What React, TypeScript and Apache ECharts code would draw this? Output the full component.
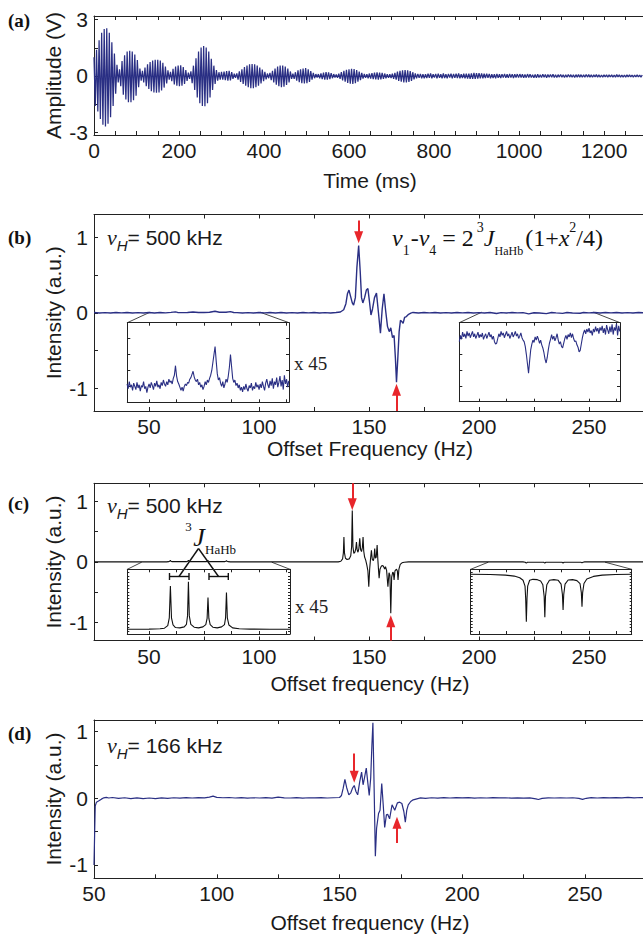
import React, { useEffect, useRef } from "react";
import * as echarts from "echarts";

const SANS = "'Liberation Sans', Arial, Helvetica, sans-serif";
const SERIF = "'Liberation Serif', 'Times New Roman', Times, serif";
const NAVY = "#2a2f84";
const RED = "#e8262b";
const INK = "#222222";

// ---------------- DATA ----------------
// (a) free-induction decay, one sample every 3 ms (alternating extremes of the oscillation)
const FID_STEP_MS = 3;
const fidAmplitude = [
  1.0, -1.6, 1.4, -1.9, 1.9, -2.3, 2.3, -2.6, 2.5, -2.7,
  2.55, -2.55, 2.3, -2.2, 1.8, -1.6, 1.2, -0.95, 0.6, -0.35,
  0.35, -0.55, 0.8, -1.0, 1.1, -1.25, 1.3, -1.4, 1.35, -1.4,
  1.3, -1.3, 1.15, -1.05, 0.85, -0.6, 0.4, -0.25, 0.28, -0.35,
  0.45, -0.55, 0.62, -0.7, 0.75, -0.82, 0.82, -0.88, 0.86, -0.9,
  0.87, -0.88, 0.82, -0.78, 0.7, -0.62, 0.5, -0.4, 0.3, -0.2,
  0.22, -0.28, 0.38, -0.45, 0.5, -0.52, 0.56, -0.55, 0.57, -0.52,
  0.48, -0.42, 0.32, -0.26, 0.18, -0.15, 0.25, -0.38, 0.55, -0.75,
  0.95, -1.15, 1.3, -1.45, 1.52, -1.6, 1.6, -1.62, 1.52, -1.45,
  1.3, -1.15, 0.92, -0.75, 0.55, -0.42, 0.32, -0.25, 0.2, -0.2,
  0.22, -0.2, 0.24, -0.22, 0.26, -0.25, 0.28, -0.24, 0.2, -0.16,
  0.12, -0.1, 0.14, -0.2, 0.25, -0.32, 0.36, -0.42, 0.47, -0.52,
  0.56, -0.6, 0.62, -0.65, 0.64, -0.66, 0.62, -0.6, 0.55, -0.52,
  0.45, -0.4, 0.34, -0.28, 0.22, -0.18, 0.13, -0.12, 0.16, -0.22,
  0.28, -0.34, 0.4, -0.46, 0.5, -0.55, 0.55, -0.6, 0.55, -0.57,
  0.5, -0.48, 0.4, -0.34, 0.24, -0.16, 0.12, -0.15, 0.2, -0.25,
  0.3, -0.33, 0.36, -0.38, 0.4, -0.4, 0.42, -0.38, 0.36, -0.32,
  0.26, -0.2, 0.16, -0.12, 0.1, -0.08, 0.1, -0.12, 0.14, -0.17,
  0.18, -0.2, 0.2, -0.2, 0.19, -0.17, 0.15, -0.12, 0.1, -0.08,
  0.08, -0.1, 0.12, -0.16, 0.2, -0.24, 0.27, -0.31, 0.33, -0.37,
  0.36, -0.41, 0.38, -0.42, 0.37, -0.38, 0.32, -0.3, 0.24, -0.22,
  0.16, -0.14, 0.11, -0.1, 0.1, -0.12, 0.13, -0.14, 0.15, -0.17,
  0.18, -0.18, 0.19, -0.2, 0.18, -0.18, 0.16, -0.15, 0.13, -0.12,
  0.1, -0.1, 0.09, -0.11, 0.12, -0.15, 0.17, -0.2, 0.23, -0.26,
  0.27, -0.3, 0.3, -0.34, 0.32, -0.35, 0.3, -0.32, 0.26, -0.26,
  0.2, -0.18, 0.14, -0.13, 0.11, -0.1, 0.11,
  -0.12, 0.1, -0.13, 0.09, -0.11, 0.12, -0.1, 0.13, -0.12, 0.1,
  -0.09, 0.11, -0.13, 0.12, -0.1, 0.09, -0.12, 0.13, -0.11, 0.1,
  -0.12, 0.11, -0.09, 0.12, -0.13, 0.11, -0.1, 0.12, -0.11, 0.13,
  -0.12, 0.1, -0.11, 0.12, -0.13, 0.12, -0.14, 0.13, -0.15, 0.14,
  -0.15, 0.16, -0.15, 0.15, -0.14, 0.15, -0.13, 0.14, -0.12, 0.12,
  -0.11, 0.12, -0.1, 0.11, -0.12, 0.1, -0.11, 0.1, -0.12, 0.11,
  -0.1, 0.09, -0.11, 0.1, -0.09, 0.11, -0.1, 0.09, -0.1, 0.11,
  -0.09, 0.1, -0.11, 0.09, -0.08, 0.1, -0.09, 0.1, -0.08, 0.09,
  -0.1, 0.08, -0.09, 0.1, -0.08, 0.09, -0.08, 0.07, -0.09, 0.08,
  -0.1, 0.09, -0.08, 0.07, -0.08, 0.09, -0.07, 0.08, -0.09, 0.08,
  -0.07, 0.08, -0.07, 0.09, -0.08, 0.07, -0.08, 0.07, -0.06, 0.08,
  -0.07, 0.07, -0.08, 0.06, -0.07, 0.08, -0.06, 0.07, -0.07, 0.06,
  -0.08, 0.07, -0.06, 0.07, -0.06, 0.07, -0.07, 0.06, -0.07, 0.08,
  -0.06, 0.07, -0.06, 0.06, -0.07, 0.06, -0.05, 0.07, -0.06, 0.06,
  -0.07, 0.05, -0.06, 0.06, -0.05, 0.06, -0.07, 0.06, -0.05, 0.06,
  -0.06, 0.05, -0.06, 0.07, -0.05, 0.06, -0.06, 0.05, -0.06, 0.05,
  -0.06, 0.06, -0.05, 0.06, -0.05, 0.05, -0.06, 0.05, -0.05, 0.06,
  -0.05, 0.05, -0.06, 0.05,
];

const timeTicks = [0, 50, 100, 150, 200, 250, 300, 350, 400, 450, 500, 550, 600, 650, 700, 750, 800, 850, 900, 950, 1000, 1050, 1100, 1150, 1200, 1250, 1300];
const timeLabels = [0, 200, 400, 600, 800, 1000, 1200];
const ampTicks = [-3, -1.5, 0, 1.5, 3];
const ampLabels = [-3, 0, 3];

const freqTicksBC = [25, 50, 75, 100, 125, 150, 175, 200, 225, 250, 275];
const freqTicksD = [50, 75, 100, 125, 150, 175, 200, 225, 250, 275];
const freqLabels = [50, 100, 150, 200, 250];
const intTicks = [-1, -0.5, 0, 0.5, 1];
const intLabels = [-1, 0, 1];

const insetTicksLeft = [50, 62.5, 75, 87.5, 100, 112.5];
const insetTicksRight = [200, 212.5, 225, 237.5, 250, 262.5];
const insetYTicksB = [2, 4, 6, 8];
const insetYTicksC = [0.5, 1, 1.5, 2, 2.5, 3, 3.5, 4, 4.5, 5, 5.5, 6, 6.5, 7, 7.5, 8, 8.5, 9, 9.5];

// (b) measured spectrum, 500 kHz  [Hz, a.u.]
const bSpectrum: [number, number][] = [
  [25, 0.003], [27.5, -0.004], [30, 0.002], [32.5, -0.003], [35, 0.004], [37.5, -0.002], [40, 0.003], [42.5, -0.004],
  [45, 0.002], [47.5, -0.003], [50, 0.004], [52.5, -0.003], [55, 0.003], [57.5, -0.002], [60, 0.005], [62, 0.012],
  [63, 0.004], [65, 0.002], [67.5, 0.004], [70, 0.009], [72.5, 0.003], [75, 0.004], [77.5, 0.006], [80, 0.02],
  [82, 0.007], [85, 0.006], [87, 0.015], [88.5, 0.004], [90, 0.001], [92.5, -0.004], [95, 0.002], [97.5, -0.003],
  [100, 0.003], [102.5, -0.002], [105, 0.004], [107.5, -0.003], [110, 0.003], [112.5, -0.004], [115, 0.002],
  [117.5, -0.003], [120, 0.004], [122.5, -0.002], [125, 0.003], [127.5, -0.004], [130, 0.002], [132.5, -0.003],
  [135, 0.004], [137, 0.01], [138.5, 0.04], [139.5, 0.12], [140.2, 0.25], [140.9, 0.3], [141.6, 0.22], [142.4, 0.13],
  [143, 0.1], [143.8, 0.2], [144.5, 0.6], [145.3, 0.89], [146, 0.55], [146.6, 0.2], [147.2, 0.13], [148, 0.2],
  [148.8, 0.3], [149.5, 0.32], [150.2, 0.15], [150.9, -0.03], [151.6, 0.05], [152.5, 0.2], [153.4, 0.26],
  [154.3, 0.0], [155.2, -0.27], [156, 0.05], [156.8, 0.25], [157.6, 0.02], [158.4, -0.18], [159.2, -0.25],
  [159.9, -0.2], [160.7, -0.33], [161.4, -0.3], [162, -0.6], [162.5, -0.92], [163.1, -0.6], [163.7, -0.25],
  [164.3, -0.1], [165, -0.12], [165.5, -0.14], [166.2, -0.06], [167, -0.05], [168, -0.02], [169, -0.005],
  [170, 0.004], [172.5, -0.003], [175, 0.004], [177.5, -0.002], [180, 0.003], [182.5, -0.004], [185, 0.002],
  [187.5, -0.003], [190, 0.004], [192.5, -0.002], [195, 0.003], [197.5, -0.004], [200, 0.002], [202.5, -0.003],
  [205, 0.003], [208, -0.01], [210, 0.002], [212.5, -0.003], [215, 0.004], [217.5, -0.002], [220, 0.001],
  [222.6, -0.015], [225, 0.0], [227.5, -0.004], [230.6, -0.012], [233, 0.003], [235, -0.002], [238, -0.008],
  [240, 0.003], [242.5, -0.003], [246, -0.006], [247.5, 0.004], [250, -0.002], [252.5, 0.004], [255, -0.003],
  [257.5, 0.004], [260, -0.002], [262.5, 0.003], [265, -0.004], [267.5, 0.002], [270, -0.003], [272.5, 0.004],
  [275, -0.002],
];

// (b) x45 insets: one value every 0.5 Hz
const INSET_STEP_HZ = 0.5;
const bInsetLeftStart = 40;
const bInsetLeft = [
  2.3, 1.7, 2.6, 1.9, 2.2, 1.5, 2.4, 2.0, 1.6, 2.5, 1.8, 2.2, 1.4, 2.1, 1.9, 2.6, 1.7, 2.0, 1.2, 1.9,
  2.3, 1.8, 2.5, 2.1, 1.6, 2.4, 2.0, 2.7, 1.9, 2.2, 1.7, 2.5, 2.1, 2.8, 2.3, 2.0, 2.6, 2.2, 2.9, 2.5,
  2.7, 2.3, 3.0, 3.4, 4.6, 3.3, 2.6, 2.3, 1.9, 1.5, 1.9, 1.4, 2.0, 2.3, 2.1, 2.5, 2.4, 2.9, 3.1, 3.5,
  3.9, 3.2, 2.8, 2.6, 2.9, 2.2, 2.5, 1.9, 2.2, 1.6, 2.0, 2.6, 2.2, 2.8, 2.5, 3.0, 3.4, 4.0, 5.0, 6.0,
  7.0, 5.2, 3.6, 2.8, 3.1, 2.4, 2.0, 2.6, 1.8, 2.3, 2.9, 2.5, 3.3, 4.4, 6.0, 4.5, 3.0, 2.5, 2.8, 2.1,
  2.4, 1.8, 2.2, 1.5, 1.9, 1.3, 2.0, 1.6, 2.3, 1.7, 1.4, 2.1, 1.8, 2.4, 1.5, 2.0, 1.7, 2.5, 1.9, 2.2,
  1.6, 2.3, 1.8, 2.6, 2.0, 1.5, 2.4, 2.9, 2.2, 1.8, 2.7, 2.1, 3.0, 1.7, 2.6, 2.2, 3.1, 1.9, 2.5, 3.3,
  2.0, 2.8, 1.6, 3.4, 2.3, 2.9, 1.9, 2.7,
];
const bInsetRightStart = 191;
const bInsetRight = [
  7.6, 8.4, 7.9, 8.8, 8.2, 8.6, 8.0, 8.9, 8.3, 8.7, 8.1, 8.5, 8.9, 8.2, 8.6, 8.0, 8.4, 8.8, 8.1, 8.5,
  8.2, 8.7, 7.9, 8.3, 8.6, 8.0, 8.4, 8.8, 8.2, 8.5, 7.9, 8.3, 7.6, 7.3, 7.4, 8.0, 8.6, 8.2, 8.9, 8.4,
  8.7, 8.1, 8.5, 8.9, 8.3, 8.6, 8.0, 8.4, 8.8, 8.2, 8.5, 8.9, 8.3, 8.6, 8.0, 8.3, 8.7, 8.1, 7.8, 7.6,
  7.0, 6.0, 4.8, 3.6, 5.2, 6.6, 7.3, 7.8, 7.5, 8.2, 7.8, 8.3, 7.9, 7.4, 7.8, 7.2, 6.8, 6.2, 5.4, 4.9,
  5.6, 6.6, 7.4, 7.9, 8.5, 7.9, 8.3, 7.7, 8.1, 8.6, 7.8, 7.3, 7.6, 7.0, 6.8, 7.4, 8.0, 8.4, 7.9, 8.5,
  8.2, 8.7, 8.1, 8.6, 8.0, 7.6, 7.7, 7.2, 6.9, 6.3, 6.5, 7.3, 8.1, 8.7, 9.1, 8.6, 9.2, 8.8, 9.3, 8.7,
  9.0, 8.4, 9.2, 8.8, 9.5, 8.9, 9.3, 8.6, 9.4, 9.0, 9.6, 8.7, 9.3, 8.5, 9.7, 9.1, 8.6, 9.5, 8.8, 9.8,
  8.5, 9.4, 9.0, 9.9, 8.4, 9.6, 8.9,
];

// (c) simulated spectrum, 500 kHz
const cSpectrum: [number, number][] = [
  [25, 0], [58, 0], [58.9, 0.004], [59.4, 0.01], [59.7, 0.025], [60, 0.01], [60.5, 0.004], [67, 0.004],
  [67.6, 0.01], [67.9, 0.028], [68.2, 0.01], [68.8, 0.004], [76, 0.004], [76.5, 0.01], [76.8, 0.02],
  [77.1, 0.01], [77.6, 0.004], [84.4, 0.004], [84.9, 0.01], [85.2, 0.022], [85.5, 0.01], [86, 0.004],
  [87, 0], [136, 0], [137.2, 0.01], [138, 0.05], [138.35, 0.15], [138.6, 0.41], [138.85, 0.15], [139.3, 0.06],
  [140, 0.04], [141, 0.05], [141.7, 0.1], [142.1, 0.25], [142.4, 0.85], [142.7, 0.25], [143.1, 0.14],
  [143.6, 0.16], [144.0, 0.22], [144.3, 0.33], [144.6, 0.2], [145.0, 0.16], [145.4, 0.22], [145.8, 0.39],
  [146.2, 0.2], [146.6, 0.17], [147.0, 0.24], [147.3, 0.41], [147.6, 0.18], [148.0, 0.08], [148.5, 0.03],
  [149.0, -0.05], [149.5, -0.15], [149.9, -0.41], [150.3, -0.12], [150.7, 0.05], [151.1, 0.19], [151.5, 0.04],
  [152.0, 0.02], [152.3, 0.08], [152.6, 0.22], [152.9, 0.06], [153.3, 0.08], [153.7, 0.28], [154.0, 0.05],
  [154.3, -0.12], [154.6, -0.27], [155.0, -0.12], [155.6, -0.07], [156.3, -0.06], [156.8, -0.09],
  [157.1, -0.12], [157.5, -0.08], [158.0, -0.14], [158.6, -0.41], [159.1, -0.18], [159.5, -0.22],
  [159.9, -0.85], [160.3, -0.25], [160.8, -0.17], [161.1, -0.18], [161.4, -0.3], [161.8, -0.15],
  [162.5, -0.12], [162.9, -0.15], [163.2, -0.3], [163.6, -0.12], [164.2, -0.04], [165, -0.015], [166, -0.005],
  [168, 0], [220, 0], [221, -0.006], [221.5, -0.02], [222, -0.006], [229.4, -0.006], [229.9, -0.02],
  [230.4, -0.006], [237.7, -0.006], [238.2, -0.018], [238.7, -0.006], [246.3, -0.005], [246.8, -0.016],
  [247.3, -0.005], [248, 0], [275, 0],
];
const cInsetLeft: [number, number][] = [
  [40.1, 0.73], [50, 0.75], [55, 0.8], [57, 0.9], [58.5, 1.3], [59.2, 2.5], [59.7, 7.4], [60.2, 2.5], [60.9, 1.4],
  [62, 1.0], [64, 0.95], [66, 1.1], [67, 1.5], [67.5, 2.8], [67.9, 8.07], [68.3, 2.8], [69, 1.5], [70.5, 1.05],
  [72.5, 0.95], [74.5, 1.1], [75.8, 1.45], [76.4, 2.4], [76.8, 5.63], [77.2, 2.4], [77.8, 1.45], [79, 1.05],
  [81, 0.95], [83, 1.1], [84.3, 1.45], [84.8, 2.5], [85.2, 6.4], [85.6, 2.5], [86.3, 1.4], [88, 0.95],
  [91, 0.82], [96, 0.76], [105, 0.74], [114.1, 0.73],
];
const cInsetRight: [number, number][] = [
  [196.2, 9.23], [205, 9.2], [212, 9.1], [216, 8.95], [218.5, 8.7], [220, 8.3], [220.9, 7.4], [221.2, 5.5],
  [221.5, 1.9], [221.8, 5.5], [222.1, 7.4], [223, 8.3], [224.5, 8.45], [226.5, 8.4], [228, 8.2], [229, 7.6],
  [229.6, 5.8], [229.9, 2.58], [230.2, 5.8], [230.8, 7.6], [232, 8.3], [234, 8.4], [236, 8.3], [237.3, 7.7],
  [237.9, 6.1], [238.2, 3.7], [238.5, 6.1], [239.1, 7.7], [240.5, 8.35], [242.5, 8.4], [244.5, 8.25],
  [245.9, 7.8], [246.5, 6.4], [246.8, 4.2], [247.1, 6.4], [247.7, 7.8], [249, 8.5], [252, 8.9], [256, 9.1],
  [262, 9.2], [269.4, 9.23],
];

// (d) measured spectrum, 166 kHz
const dSpectrum: [number, number][] = [
  [50, -1.0], [50.25, -0.55], [50.5, -0.12], [51, -0.06], [52, -0.04], [53, -0.015], [54, 0.005], [55, 0.012],
  [56, 0.002], [57.5, 0.01], [60, -0.004], [62.5, 0.006], [65, -0.006], [67.5, 0.004], [70, -0.008],
  [72.5, 0.002], [75, -0.006], [77.5, 0.003], [80, -0.002], [82.5, 0.006], [85, 0.001], [87.5, 0.008],
  [90, 0.002], [92.5, 0.009], [95, 0.004], [97, 0.015], [98.5, 0.03], [100, 0.012], [102.5, 0.006],
  [105, 0.01], [107.5, 0.002], [110, 0.008], [112.5, 0.0], [115, 0.006], [117.5, 0.002], [120, 0.007],
  [122.5, 0.001], [125, 0.016], [127.5, 0.004], [130, 0.002], [132.5, 0.007], [135, 0.0], [137.5, 0.006],
  [140, 0.003], [142.5, 0.008], [145, 0.002], [147.5, 0.006], [150, 0.01], [150.8, 0.04], [151.5, 0.15],
  [152.2, 0.28], [152.9, 0.16], [153.8, 0.05], [154.6, 0.08], [155.3, 0.15], [156, 0.19], [156.7, 0.1],
  [157.4, 0.05], [158.2, 0.24], [159, 0.39], [159.6, 0.2], [160.3, 0.33], [160.9, 0.45], [161.5, 0.24],
  [162.1, 0.04], [162.7, 0.3], [163.2, 0.8], [163.6, 1.13], [164.1, 0.15], [164.6, -0.87], [165.1, -0.45],
  [165.9, -0.23], [166.5, -0.18], [167.2, 0.22], [167.8, -0.1], [168.4, -0.44], [169.1, -0.25],
  [169.6, -0.24], [170.4, -0.31], [171.4, -0.1], [172.5, -0.18], [173.6, -0.07], [174.5, -0.06],
  [175.4, -0.08], [176.2, -0.2], [176.8, -0.36], [177.4, -0.18], [178, -0.1], [179, -0.05], [180, -0.025],
  [181.5, -0.01], [183, 0.004], [185, -0.003], [187.5, 0.006], [190, 0.0], [192.5, 0.007], [195, 0.002],
  [197.5, 0.008], [200, 0.003], [202.5, 0.007], [205, 0.0], [207.5, 0.006], [210, 0.002], [212.5, 0.008],
  [215, 0.003], [217.5, 0.006], [220, 0.001], [222.5, 0.005], [225, 0.0], [227.5, 0.004], [230, -0.01],
  [231, -0.02], [232.5, -0.004], [235, 0.004], [237.5, 0.002], [240, 0.006], [242.5, 0.002], [245, 0.006],
  [247.5, -0.004], [249, -0.018], [250.5, -0.002], [252.5, 0.008], [255, 0.002], [257.5, 0.008], [260, 0.003],
  [262.5, 0.009], [265, 0.005], [267.5, 0.012], [270, 0.004], [272.5, 0.01], [275, 0.005],
];

// red arrows: [frequency, tail value, head value]
const bArrows: [number, number, number][] = [[145.3, 1.22, 1.0], [162.5, -1.3, -1.02]];
const cArrows: [number, number, number][] = [[142.4, 1.3, 0.955], [159.9, -1.3, -0.98]];
const dArrows: [number, number, number][] = [[156, 0.67, 0.32], [173.4, -0.67, -0.37]];

// ---------------- helpers ----------------
let measureCtx: CanvasRenderingContext2D | null = null;
function textWidth(text: string, font: string) {
  if (!measureCtx) measureCtx = document.createElement("canvas").getContext("2d");
  measureCtx!.font = font;
  return measureCtx!.measureText(text).width;
}

type Piece = { t: string; size: number; italic?: boolean; dy?: number; family?: string; gap?: number };
function seq(pieces: Piece[], x0: number, yc: number, color = "#111") {
  let x = x0;
  const els: any[] = [];
  for (const p of pieces) {
    x += p.gap ?? 0;
    const fam = p.family ?? SERIF;
    const st = p.italic ? "italic" : "normal";
    els.push({
      type: "text",
      x,
      y: yc + (p.dy ?? 0),
      silent: true,
      style: {
        text: p.t, fontSize: p.size, fontFamily: fam, fontStyle: st, fill: color,
        align: "left", verticalAlign: "middle", textAlign: "left", textVerticalAlign: "middle",
      },
    });
    x += textWidth(p.t, `${st} ${p.size}px ${fam}`);
  }
  return els;
}

function txt(text: string, x: number, y: number, opts: any = {}) {
  return {
    type: "text", x, y, silent: true, rotation: opts.rotation ?? 0,
    style: {
      text, fontSize: opts.size ?? 21, fontFamily: opts.family ?? SANS, fontWeight: opts.weight ?? "normal",
      fontStyle: opts.style ?? "normal", fill: opts.color ?? "#1a1a1a",
      align: opts.align ?? "center", verticalAlign: "middle",
      textAlign: opts.align ?? "center", textVerticalAlign: "middle",
    },
  };
}

function seg(x1: number, y1: number, x2: number, y2: number, w = 0.9, color = "#333") {
  return { type: "line", silent: true, shape: { x1, y1, x2, y2 }, style: { stroke: color, lineWidth: w } };
}

function xAx(gridIndex: number, min: number, max: number, position: string, ticks: number[], labels?: number[], tickLen = 4) {
  return {
    type: "value", gridIndex, min, max, position,
    axisLine: { show: true, onZero: false, lineStyle: { color: INK, width: 1 } },
    axisTick: { show: true, inside: true, length: tickLen, customValues: ticks, lineStyle: { color: INK, width: 1 } },
    axisLabel: labels
      ? { show: true, customValues: labels, margin: 5, fontFamily: SANS, fontSize: 21, color: "#1a1a1a", formatter: (v: number) => String(v) }
      : { show: false },
    splitLine: { show: false },
    axisPointer: { show: false },
  };
}
function yAx(gridIndex: number, min: number, max: number, position: string, ticks: number[], labels?: number[], tickLen = 4) {
  return {
    type: "value", gridIndex, min, max, position,
    axisLine: { show: true, onZero: false, lineStyle: { color: INK, width: 1 } },
    axisTick: { show: true, inside: true, length: tickLen, customValues: ticks, lineStyle: { color: INK, width: 1 } },
    axisLabel: labels
      ? { show: true, customValues: labels, margin: 6, fontFamily: SANS, fontSize: 21, color: "#1a1a1a", formatter: (v: number) => String(v) }
      : { show: false },
    splitLine: { show: false },
    axisPointer: { show: false },
  };
}

function arrows(list: [number, number, number][]) {
  return {
    silent: true,
    animation: false,
    symbol: ["none", "triangle"],
    symbolSize: [9, 12],
    label: { show: false },
    emphasis: { disabled: true },
    itemStyle: { color: RED },
    lineStyle: { color: RED, width: 2, type: "solid" },
    data: list.map(([x, a, b]) => [{ coord: [x, a] }, { coord: [x, b] }]),
  };
}

function lineSeries(xi: number, yi: number, data: any[], color: string, width: number, extra: any = {}) {
  return {
    type: "line", xAxisIndex: xi, yAxisIndex: yi, data, symbol: "none", silent: true,
    lineStyle: { color, width }, itemStyle: { color }, emphasis: { disabled: true }, ...extra,
  };
}

function buildOption() {
  const grids = [
    { left: 94, top: 16, width: 552.5, height: 119 },
    { left: 94, top: 214.5, width: 550, height: 196.5 },
    { left: 94, top: 483.3, width: 550, height: 157.2 },
    { left: 94, top: 720, width: 552.4, height: 158.3 },
    { left: 127.3, top: 322.7, width: 161.7, height: 79.6 },
    { left: 459.3, top: 322.7, width: 160.7, height: 79 },
    { left: 127.3, top: 569.3, width: 162.7, height: 64.7 },
    { left: 470.7, top: 569.3, width: 161, height: 64.7 },
  ].map((g) => ({ ...g, containLabel: false, outerBoundsMode: "none", show: false }));

  const xAxis = [
    xAx(0, 0, 1300, "bottom", timeTicks, timeLabels),
    xAx(0, 0, 1300, "top", timeTicks),
    xAx(1, 25, 275, "bottom", freqTicksBC, freqLabels),
    xAx(1, 25, 275, "top", freqTicksBC),
    xAx(2, 25, 275, "bottom", freqTicksBC, freqLabels),
    xAx(2, 25, 275, "top", freqTicksBC),
    xAx(3, 50, 275, "bottom", freqTicksD, freqLabels),
    xAx(3, 50, 275, "top", freqTicksD),
    xAx(4, 40.1, 113.6, "bottom", insetTicksLeft, undefined, 3),
    xAx(4, 40.1, 113.6, "top", insetTicksLeft, undefined, 3),
    xAx(5, 191, 264.1, "bottom", insetTicksRight, undefined, 3),
    xAx(5, 191, 264.1, "top", insetTicksRight, undefined, 3),
    xAx(6, 40.1, 114.1, "bottom", insetTicksLeft, undefined, 3),
    xAx(6, 40.1, 114.1, "top", insetTicksLeft, undefined, 3),
    xAx(7, 196.2, 269.4, "bottom", insetTicksRight, undefined, 3),
    xAx(7, 196.2, 269.4, "top", insetTicksRight, undefined, 3),
  ];
  const yAxis = [
    yAx(0, -3.15, 3.2, "left", ampTicks, ampLabels),
    yAx(1, -1.3, 1.3, "left", intTicks, intLabels),
    yAx(2, -1.3, 1.3, "left", intTicks, intLabels),
    yAx(3, -1.2, 1.17, "left", intTicks, intLabels),
    yAx(4, 0, 10, "left", insetYTicksB, undefined, 3),
    yAx(4, 0, 10, "right", insetYTicksB, undefined, 3),
    yAx(5, 0, 10, "left", insetYTicksB, undefined, 3),
    yAx(5, 0, 10, "right", insetYTicksB, undefined, 3),
    yAx(6, 0, 10, "left", insetYTicksC, undefined, 2),
    yAx(6, 0, 10, "right", insetYTicksC, undefined, 2),
    yAx(7, 0, 10, "left", insetYTicksC, undefined, 2),
    yAx(7, 0, 10, "right", insetYTicksC, undefined, 2),
  ];

  const series = [
    lineSeries(0, 0, fidAmplitude.map((v, i) => [i * FID_STEP_MS, v]), NAVY, 1.25),
    lineSeries(2, 1, bSpectrum, NAVY, 1.4, { markLine: arrows(bArrows) }),
    lineSeries(8, 4, bInsetLeft.map((v, i) => [bInsetLeftStart + i * INSET_STEP_HZ, v]), NAVY, 1.1),
    lineSeries(10, 6, bInsetRight.map((v, i) => [bInsetRightStart + i * INSET_STEP_HZ, v]), NAVY, 1.1),
    lineSeries(4, 2, cSpectrum, "#111", 1.1, { markLine: arrows(cArrows) }),
    lineSeries(12, 8, cInsetLeft, "#111", 1.1),
    lineSeries(14, 10, cInsetRight, "#111", 1.1),
    lineSeries(6, 3, dSpectrum, NAVY, 1.2, { markLine: arrows(dArrows) }),
  ];

  const nu = (kHz: string, x: number, y: number) =>
    seq(
      [
        { t: "ν", size: 22, italic: true, family: SERIF },
        { t: "H", size: 15, italic: true, family: SANS, dy: 8 },
        { t: `= ${kHz} kHz`, size: 21, family: SANS },
      ],
      x, y, "#1a1a1a"
    );

  const formula = seq(
    [
      { t: "ν", size: 24, italic: true },
      { t: "1", size: 14, dy: 12 },
      { t: "-", size: 24, gap: 1 },
      { t: "ν", size: 24, italic: true },
      { t: "4", size: 14, dy: 12 },
      { t: " = 2", size: 24 },
      { t: "3", size: 14, dy: -11, gap: 3 },
      { t: "J", size: 24, italic: true },
      { t: "HaHb", size: 12, dy: 13 },
      { t: "(1+", size: 24, gap: 2 },
      { t: "x", size: 24, italic: true },
      { t: "2", size: 14, dy: -11 },
      { t: "/4)", size: 24 },
    ],
    392, 238, "#111"
  );

  const graphic = [
    // panel letters
    txt("(a)", 8, 20, { family: SERIF, weight: "bold", size: 19, align: "left", color: "#111" }),
    txt("(b)", 8, 237, { family: SERIF, weight: "bold", size: 19, align: "left", color: "#111" }),
    txt("(c)", 8, 503, { family: SERIF, weight: "bold", size: 19, align: "left", color: "#111" }),
    txt("(d)", 8, 733, { family: SERIF, weight: "bold", size: 19, align: "left", color: "#111" }),
    // axis titles
    txt("Amplitude (V)", 53, 75.5, { rotation: Math.PI / 2 }),
    txt("Intensity (a.u.)", 53, 312.7, { rotation: Math.PI / 2 }),
    txt("Intensity (a.u.)", 53, 562, { rotation: Math.PI / 2 }),
    txt("Intensity (a.u.)", 53, 799, { rotation: Math.PI / 2 }),
    txt("Time (ms)", 370, 180),
    txt("Offset Frequency (Hz)", 370, 448.5),
    txt("Offset frequency (Hz)", 370, 683),
    txt("Offset frequency (Hz)", 370, 922),
    ...nu("500", 107, 237.7),
    ...nu("500", 107, 505),
    ...nu("166", 107, 745),
    ...formula,
    txt("x 45", 294, 363, { family: SERIF, size: 19, align: "left", color: "#222" }),
    txt("x 45", 295, 606.7, { family: SERIF, size: 19, align: "left", color: "#222" }),
    // inset connectors
    seg(127.3, 322.7, 150, 312.2),
    seg(289, 322.7, 260, 312.2),
    seg(459.3, 322.7, 481.7, 312.2),
    seg(620, 322.7, 593.3, 312.2),
    seg(127.3, 569.3, 141.7, 562.2),
    seg(290, 569.3, 271.7, 562.2),
    seg(470.7, 569.3, 488.3, 562.2),
    seg(631.7, 569.3, 605, 562.2),
    // 3J annotation in (c)
    seg(169.5, 576.5, 189, 576.5, 1.4, "#111"),
    seg(169.5, 573, 169.5, 580, 1.4, "#111"),
    seg(189, 573, 189, 580, 1.4, "#111"),
    seg(209, 576.5, 228.3, 576.5, 1.4, "#111"),
    seg(209, 573, 209, 580, 1.4, "#111"),
    seg(228.3, 573, 228.3, 580, 1.4, "#111"),
    seg(198.5, 548.5, 179, 576.5, 1.4, "#111"),
    seg(198.5, 548.5, 218.5, 576.5, 1.4, "#111"),
    txt("3", 188.5, 526.5, { family: SERIF, size: 13, color: "#111" }),
    txt("J", 199, 537.5, { family: SERIF, size: 26, style: "italic", color: "#111" }),
    txt("HaHb", 205, 549, { family: SERIF, size: 13, align: "left", color: "#111" }),
  ];

  return {
    animation: false,
    backgroundColor: "#ffffff",
    grid: grids,
    xAxis,
    yAxis,
    series,
    graphic,
  };
}

export default function App() {
  const ref = useRef<HTMLDivElement>(null);
  useEffect(() => {
    const chart = echarts.init(ref.current!, null, { renderer: "svg" });
    chart.setOption(buildOption() as any);
    return () => chart.dispose();
  }, []);
  return (
    <div
      ref={ref}
      style={{ position: "fixed", left: 0, top: 0, width: 643, height: 937, background: "#fff" }}
    />
  );
}
